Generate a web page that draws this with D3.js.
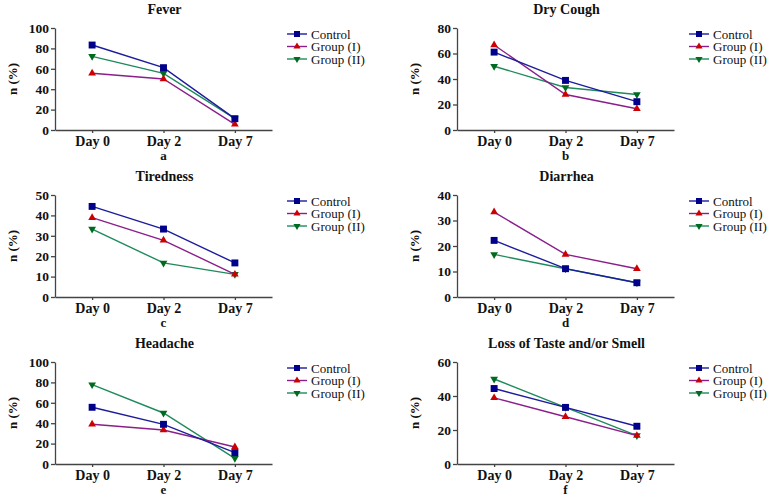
<!DOCTYPE html>
<html>
<head>
<meta charset="utf-8">
<script src="https://cdn.jsdelivr.net/npm/d3@7"></script>
<style>
  body { margin: 0; background: #fff; }
  text { font-family: "Liberation Serif", "Times New Roman", serif; }
</style>
</head>
<body>
<svg id="svg"></svg>
<script>
var width = 773, height = 501;

// data, n = 18 per group
var days = ['Day 0', 'Day 2', 'Day 7'];
var groups = ['Control', 'Group (I)', 'Group (II)'];
var titles = ['Fever', 'Dry Cough', 'Tiredness', 'Diarrhea', 'Headache', 'Loss of Taste and/or Smell'];
var letters = ['a', 'b', 'c', 'd', 'e', 'f'];
var yMax = [100, 80, 50, 40, 100, 60];
var yStep = [20, 20, 10, 10, 20, 20];

var controlVals = [
  [83.3, 61.1, 11.1],
  [61.1, 38.9, 22.2],
  [44.4, 33.3, 16.7],
  [22.2, 11.1, 5.6],
  [55.6, 38.9, 11.1],
  [44.4, 33.3, 22.2]
];
var group1Vals = [
  [55.6, 50.0, 5.6],
  [66.7, 27.8, 16.7],
  [38.9, 27.8, 11.1],
  [33.3, 16.7, 11.1],
  [38.9, 33.3, 16.7],
  [38.9, 27.8, 16.7]
];
var group2Vals = [
  [72.2, 55.6, 11.1],
  [50.0, 33.3, 27.8],
  [33.3, 16.7, 11.1],
  [16.7, 11.1, 5.6],
  [77.8, 50.0, 5.6],
  [50.0, 33.3, 16.7]
];

var lineColors = ['#1c1c9c', '#8a1e8a', '#1f8a5c'];
var markColors = ['#00008b', '#cc0000', '#006b1e'];
var markTypes = [d3.symbolSquare, d3.symbolTriangle, d3.symbolTriangle];

var svg = d3.select('#svg')
  .attr('width', width)
  .attr('height', height);

var colLeft = [55, 457];
var rowTop = [28, 195, 362];
var plotW = 217, plotH = 102;

for (var p = 0; p < 6; ++p) {
  var ox = colLeft[p % 2], oy = rowTop[Math.floor(p / 2)];
  var g = svg.append('g').attr('transform', 'translate(' + ox + ',' + oy + ')');

  var x = d3.scalePoint().domain(days).range([0, plotW]).padding(0.52);
  var y = d3.scaleLinear().domain([0, yMax[p]]).range([plotH, 0]);

  var yAxis = g.append('g')
    .call(d3.axisLeft(y).tickValues(d3.range(0, yMax[p] + 1, yStep[p])).tickSize(4).tickSizeOuter(0).tickPadding(2));
  var xAxis = g.append('g')
    .attr('transform', 'translate(0,' + plotH + ')')
    .call(d3.axisBottom(x).tickSize(3).tickSizeOuter(0).tickPadding(3));

  [yAxis, xAxis].forEach(function (a, k) {
    a.selectAll('path, line').attr('stroke', '#444').attr('stroke-width', 1.3);
    a.selectAll('text')
      .attr('fill', '#111')
      .style('font-family', '"Liberation Serif", serif')
      .style('font-weight', 'bold')
      .style('font-size', k === 0 ? '13.5px' : '14px');
  });

  g.append('text')
    .attr('x', plotW / 2 + 1)
    .attr('y', -14)
    .attr('text-anchor', 'middle')
    .style('font-weight', 'bold')
    .style('font-size', '14px')
    .attr('fill', '#111')
    .text(titles[p]);

  g.append('text')
    .attr('transform', 'translate(' + (-38) + ',' + (plotH / 2) + ') rotate(-90)')
    .attr('text-anchor', 'middle')
    .style('font-weight', 'bold')
    .style('font-size', '13px')
    .attr('fill', '#111')
    .text('n (%)');

  g.append('text')
    .attr('x', x('Day 2'))
    .attr('y', plotH + 30)
    .attr('text-anchor', 'middle')
    .style('font-weight', 'bold')
    .style('font-size', '13px')
    .attr('fill', '#111')
    .text(letters[p]);

  var series = [controlVals[p], group1Vals[p], group2Vals[p]];
  var line = d3.line().x(function (d, i) { return x(days[i]); }).y(function (d) { return y(d); });

  // draw in reverse so Control sits on top
  for (var s = 2; s >= 0; --s) {
    g.append('path')
      .datum(series[s])
      .attr('d', line)
      .attr('fill', 'none')
      .attr('stroke', lineColors[s])
      .attr('stroke-width', 1.4);
    g.selectAll('.m' + s)
      .data(series[s])
      .enter().append('path')
      .attr('class', 'm' + s)
      .attr('transform', function (d, i) {
        return 'translate(' + x(days[i]) + ',' + y(d) + ')' + (s === 2 ? ' rotate(180)' : '');
      })
      .attr('d', d3.symbol().type(markTypes[s]).size(s === 0 ? 48 : 26))
      .attr('fill', markColors[s]);
  }

  // legend
  var lg = g.append('g').attr('transform', 'translate(' + (plotW + 15) + ',6)');
  groups.forEach(function (name, i) {
    var row = lg.append('g').attr('transform', 'translate(0,' + (i * 12.5) + ')');
    row.append('line')
      .attr('x1', 0).attr('x2', 20)
      .attr('stroke', lineColors[i]).attr('stroke-width', 1.4);
    row.append('path')
      .attr('transform', 'translate(10,0)' + (i === 2 ? ' rotate(180)' : ''))
      .attr('d', d3.symbol().type(markTypes[i]).size(i === 0 ? 36 : 22))
      .attr('fill', markColors[i]);
    row.append('text')
      .attr('x', 24)
      .attr('dy', '0.35em')
      .style('font-size', '13px')
      .attr('fill', '#111')
      .text(name);
  });
}
</script>
</body>
</html>
